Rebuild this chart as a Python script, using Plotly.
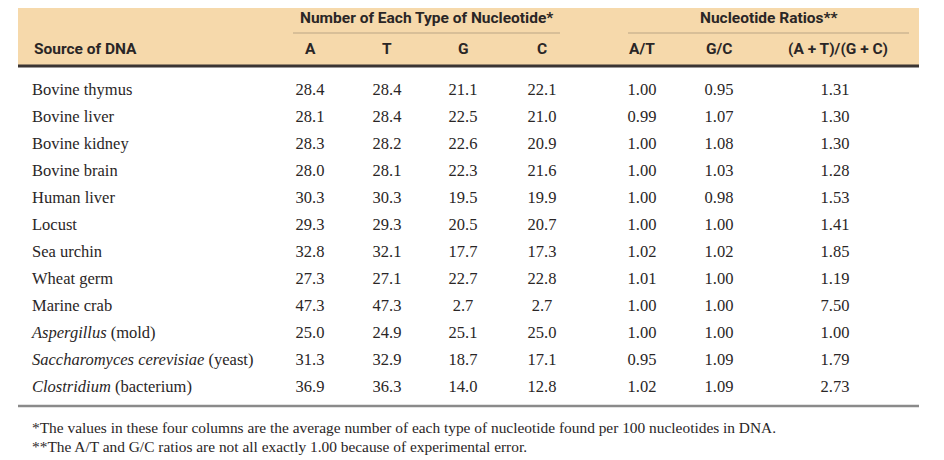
import plotly.graph_objects as go

# Datos de la tabla (composición de bases del ADN)
sources = [
    "Bovine thymus", "Bovine liver", "Bovine kidney", "Bovine brain",
    "Human liver", "Locust", "Sea urchin", "Wheat germ", "Marine crab",
    "<i>Aspergillus</i> (mold)", "<i>Saccharomyces cerevisiae</i> (yeast)",
    "<i>Clostridium</i> (bacterium)",
]
a_vals = [28.4, 28.1, 28.3, 28.0, 30.3, 29.3, 32.8, 27.3, 47.3, 25.0, 31.3, 36.9]
t_vals = [28.4, 28.4, 28.2, 28.1, 30.3, 29.3, 32.1, 27.1, 47.3, 24.9, 32.9, 36.3]
g_vals = [21.1, 22.5, 22.6, 22.3, 19.5, 20.5, 17.7, 22.7, 2.7, 25.1, 18.7, 14.0]
c_vals = [22.1, 21.0, 20.9, 21.6, 19.9, 20.7, 17.3, 22.8, 2.7, 25.0, 17.1, 12.8]
at_ratio = [1.00, 0.99, 1.00, 1.00, 1.00, 1.00, 1.02, 1.01, 1.00, 1.00, 0.95, 1.02]
gc_ratio = [0.95, 1.07, 1.08, 1.03, 0.98, 1.00, 1.02, 1.00, 1.00, 1.00, 1.09, 1.09]
atgc_ratio = [1.31, 1.30, 1.30, 1.28, 1.53, 1.41, 1.85, 1.19, 7.50, 1.00, 1.79, 2.73]

group_headers = ["Number of Each Type of Nucleotide*", "Nucleotide Ratios**"]
col_headers = ["A", "T", "G", "C", "A/T", "G/C", "(A + T)/(G + C)"]
footnotes = [
    "*The values in these four columns are the average number of each type of nucleotide found per 100 nucleotides in DNA.",
    "**The A/T and G/C ratios are not all exactly 1.00 because of experimental error.",
]

W, H = 944, 460
OFF = 8  # margen por defecto del <body> en la página
SERIF = "Liberation Serif, Times New Roman, serif"
COND = "Liberation Sans Narrow, Roboto, Arial Narrow, sans-serif"
INK = "#2a2626"
TAN = "#F6D9AB"

col_x = [310, 387, 463, 542, 642, 719, 835]
row_y0, row_h = 91, 27
row_y = [row_y0 + i * row_h for i in range(len(sources))]

fig = go.Figure()

# filas: fuente del ADN
fig.add_trace(go.Scatter(
    x=[32] * len(sources), y=row_y, text=sources, mode="text",
    textposition="middle right",
    textfont=dict(family=SERIF, size=16.5, color=INK),
    hoverinfo="skip", showlegend=False,
))

columns = [
    [f"{v:.1f}" for v in a_vals],
    [f"{v:.1f}" for v in t_vals],
    [f"{v:.1f}" for v in g_vals],
    [f"{v:.1f}" for v in c_vals],
    [f"{v:.2f}" for v in at_ratio],
    [f"{v:.2f}" for v in gc_ratio],
    [f"{v:.2f}" for v in atgc_ratio],
]
for cx, vals in zip(col_x, columns):
    fig.add_trace(go.Scatter(
        x=[cx] * len(vals), y=row_y, text=vals, mode="text",
        textposition="middle center",
        textfont=dict(family=SERIF, size=16.5, color=INK),
        hoverinfo="skip", showlegend=False,
    ))

shapes = [
    # banda del encabezado
    dict(type="rect", x0=18, x1=919, y0=5, y1=66, fillcolor=TAN, line_width=0, layer="below"),
    dict(type="line", x0=18, x1=919, y0=5, y1=5, line=dict(color="#3b3533", width=2.5)),
    dict(type="line", x0=18, x1=919, y0=66, y1=66, line=dict(color="#3b3533", width=3)),
    dict(type="line", x0=293, x1=560, y0=33, y1=33, line=dict(color="#b9a585", width=1.2)),
    dict(type="line", x0=628, x1=909, y0=33, y1=33, line=dict(color="#b9a585", width=1.2)),
    # regla inferior
    dict(type="line", x0=18, x1=919, y0=406, y1=406, line=dict(color="#8a8a8a", width=2.5)),
]

annotations = []
hdr_font = dict(family=COND, size=15.5, color=INK)
annotations.append(dict(x=426, y=18, text=f"<b>{group_headers[0]}</b>", showarrow=False,
                        xanchor="center", yanchor="middle", font=hdr_font))
annotations.append(dict(x=769, y=18, text=f"<b>{group_headers[1]}</b>", showarrow=False,
                        xanchor="center", yanchor="middle", font=hdr_font))
annotations.append(dict(x=32, y=49, text="<b>Source of DNA</b>", showarrow=False,
                        xanchor="left", yanchor="middle", font=hdr_font))
for cx, lbl in zip(col_x[:6] + [838], col_headers):
    annotations.append(dict(x=cx, y=49, text=f"<b>{lbl}</b>", showarrow=False,
                            xanchor="center", yanchor="middle", font=hdr_font))
for i, note in enumerate(footnotes):
    annotations.append(dict(x=30, y=427 + i * 19, text=note, showarrow=False,
                            xanchor="left", yanchor="middle",
                            font=dict(family=SERIF, size=15.4, color=INK)))

fig.update_layout(
    width=W, height=H,
    margin=dict(l=0, r=0, t=0, b=0),
    paper_bgcolor="white", plot_bgcolor="white",
    xaxis=dict(range=[OFF, W + OFF], visible=False, fixedrange=True),
    yaxis=dict(range=[H + OFF, OFF], visible=False, fixedrange=True),
    shapes=shapes,
    annotations=annotations,
)

fig.write_html("out.html")
